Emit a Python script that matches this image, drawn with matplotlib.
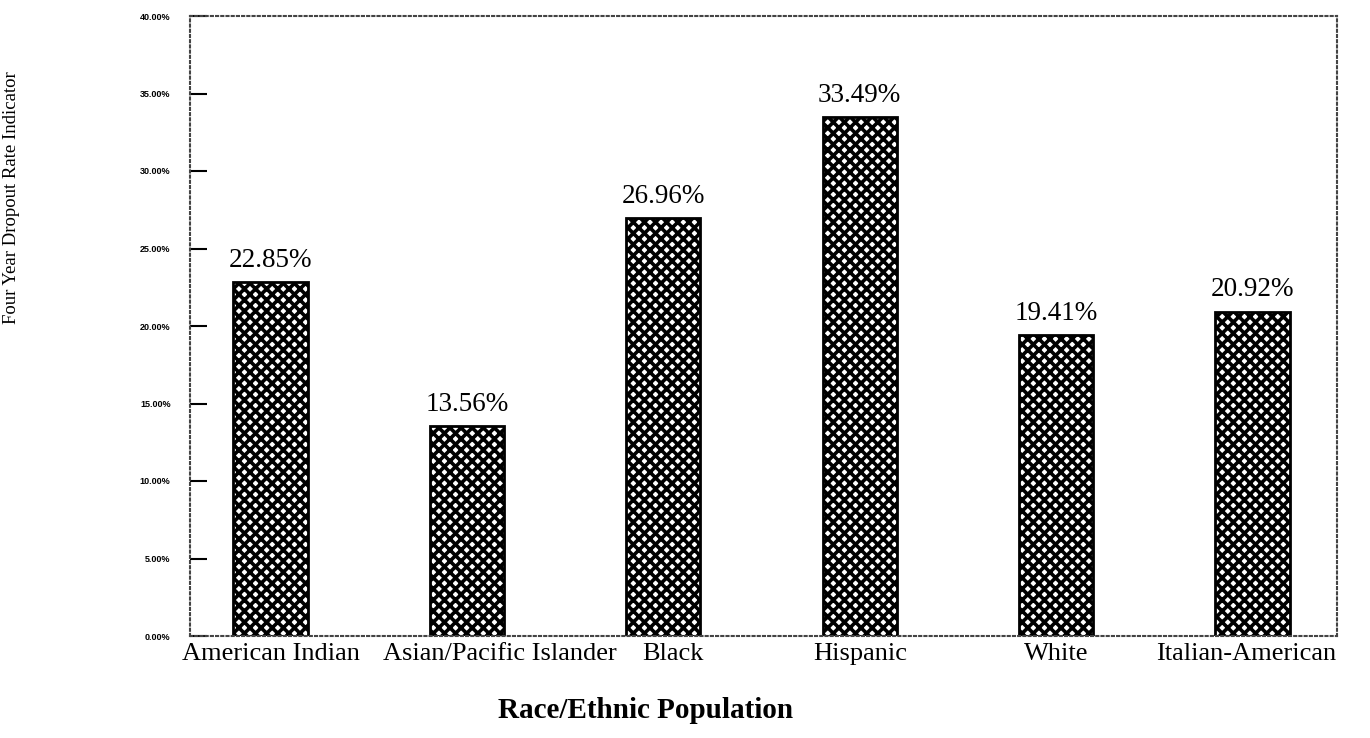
import matplotlib.pyplot as plt
import matplotlib.transforms as mtransforms
import numpy as np

groups = ["American Indian", "Asian/Pacific Islander", "Black", "Hispanic", "White", "Italian-American"]
rates = [22.85, 13.56, 26.96, 33.49, 19.41, 20.92]
yticks = [0, 5, 10, 15, 20, 25, 30, 35, 40]
# label shift in px (the labels in the original are not quite centred)
label_shift = [0, 33, 10, 0, 0, -6]

plt.rcParams['hatch.linewidth'] = 2.6
serif = ['Liberation Serif', 'DejaVu Serif']

fig = plt.figure(figsize=(13.7, 7.38), dpi=100)
ax = fig.add_axes([190/1370, 1 - 636/738, 1147/1370, 620/738])

x = np.arange(len(groups))
bars = ax.bar(x, rates, width=0.378, color='white', edgecolor='black',
              hatch='xxx', linewidth=2)

for xi, r in zip(x, rates):
    ax.text(xi, r + 0.6, f"{r:.2f}%", ha='center', va='bottom',
            family=serif, fontsize=19.5)

ax.set_xlim(-0.41, 5.43)
ax.set_ylim(0, 40)
ax.set_yticks(yticks)
ax.set_yticklabels([f"{t:.2f}%" for t in yticks], family=['Liberation Sans', 'DejaVu Sans'],
                   fontsize=6.5, fontweight='bold')
ax.tick_params(axis='y', direction='in', length=12, width=1.5, pad=14)
ax.set_xticks(x)
ax.set_xticklabels(groups, family=serif, fontsize=19)
ax.tick_params(axis='x', length=0, pad=5)
for lab, dx in zip(ax.get_xticklabels(), label_shift):
    lab.set_transform(lab.get_transform() + mtransforms.ScaledTranslation(dx/100, 0, fig.dpi_scale_trans))

for side in ['left', 'right', 'top', 'bottom']:
    ax.spines[side].set_linestyle((0, (1, 1.5)))
    ax.spines[side].set_linewidth(1.5)
    ax.spines[side].set_color('#444444')

fig.text(646/1370, 1 - 710/738, "Race/Ethnic Population", ha='center', va='center',
         family=serif, fontsize=21, fontweight='bold')
fig.text(12/1370, 1 - 198/738, "Four Year Dropout Rate Indicator", rotation=90,
         ha='center', va='center', family=serif, fontsize=13.5)

fig.savefig("out.png", dpi=100)
